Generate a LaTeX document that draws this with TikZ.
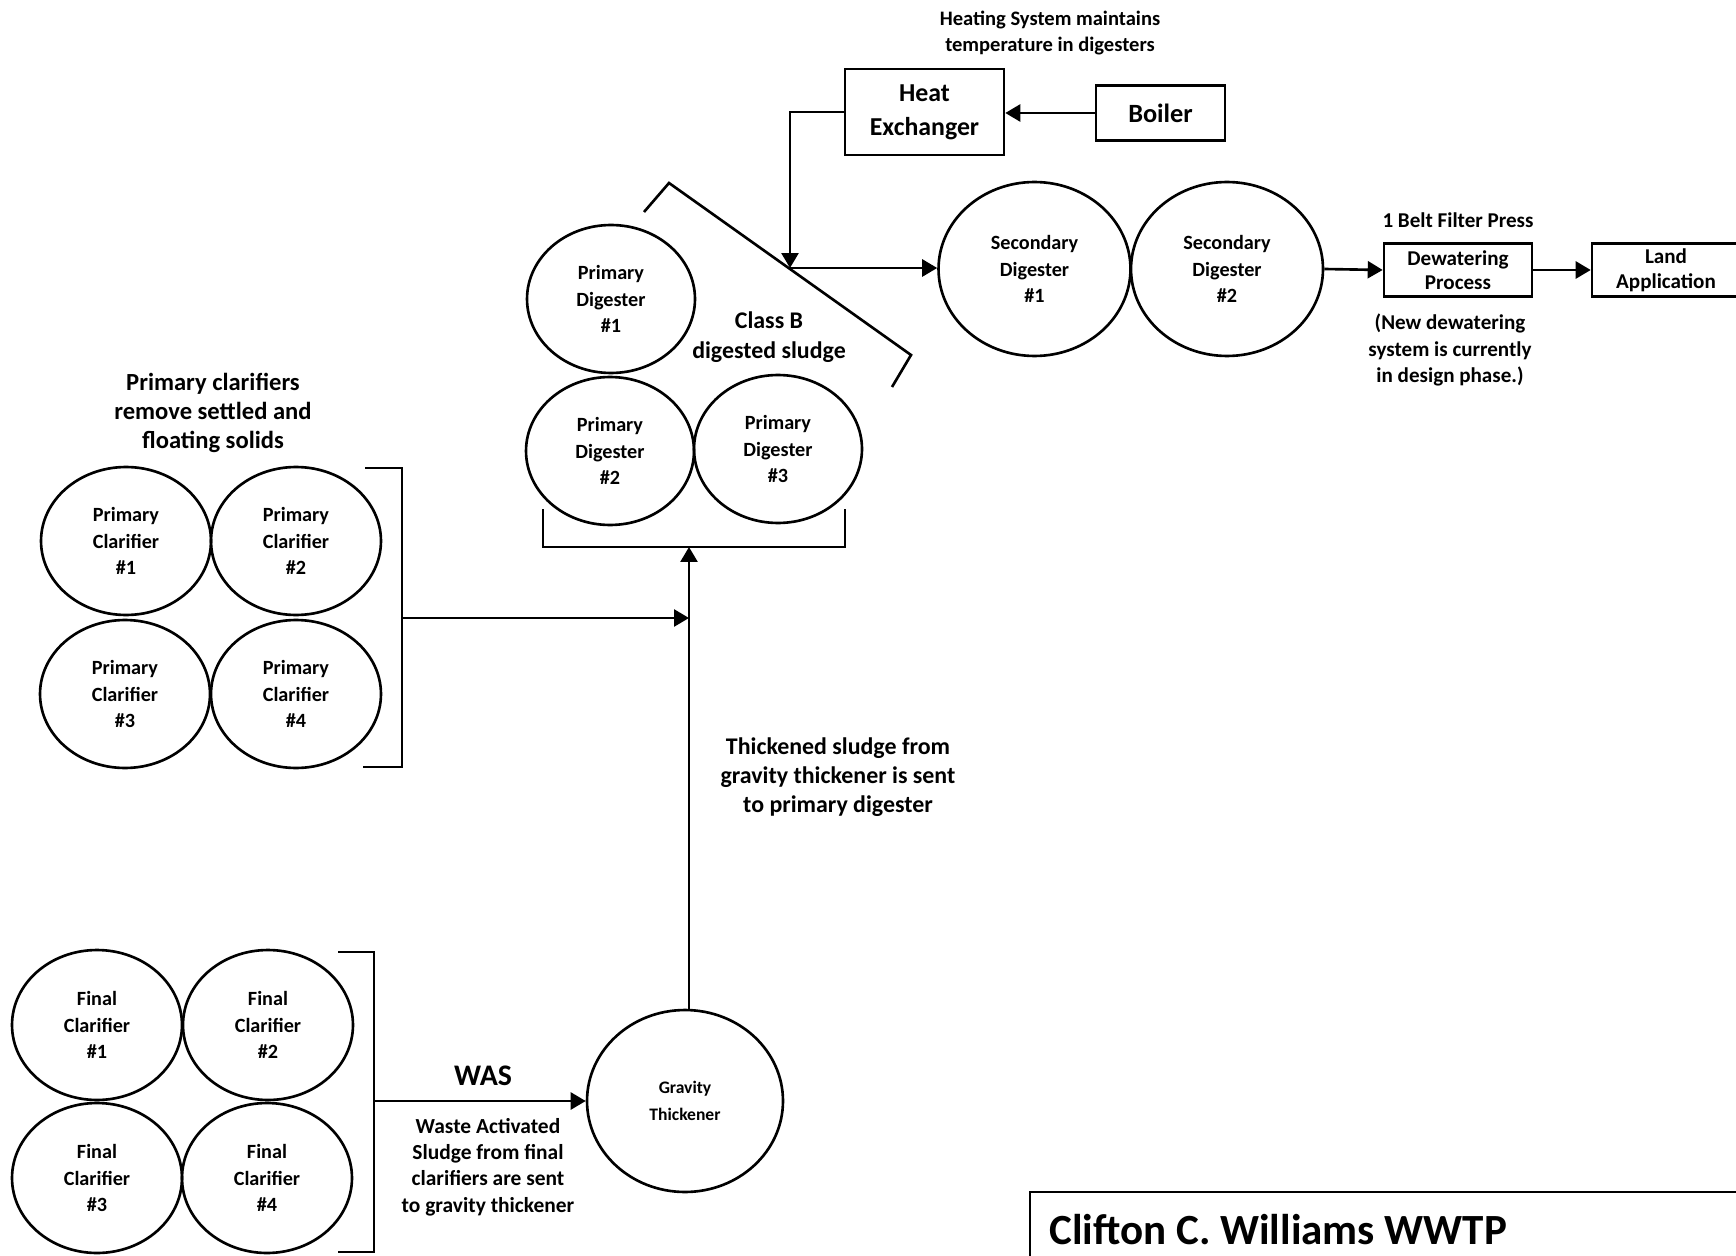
\documentclass[tikz,border=0pt]{standalone}
\usepackage{fontspec}
\setmainfont{Carlito}
\usepackage{tikz}
\usetikzlibrary{arrows.meta, positioning, shapes.geometric}
\newcommand{\fsz}[2]{\fontsize{#1}{#2}\selectfont\bfseries}
\tikzset{
  tank/.style      = {draw, ellipse, line width=1.5pt, inner sep=0pt,
                      align=center, font=\fsz{11.5}{15}},
  clarifier/.style = {tank, minimum width=3.4cm, minimum height=2.96cm},
  finalclar/.style = {tank, minimum width=3.4cm, minimum height=3.0cm},
  digester/.style  = {tank, minimum width=3.36cm, minimum height=2.96cm,
                      font=\fsz{11.5}{15}},
  secdig/.style    = {tank, minimum width=3.84cm, minimum height=3.48cm},
  unitbox/.style   = {draw, line width=1.5pt, inner sep=0pt, align=center},
  note/.style      = {align=center, inner sep=0pt, font=\fsz{12}{15}},
  bracket/.style   = {line width=1.5pt},
  flow/.style      = {-{Triangle[length=3mm, width=3.4mm]}, line width=1.5pt},
}

\begin{document}
\begin{tikzpicture}[x=0.02cm, y=-0.02cm]
    \useasboundingbox (0,0) rectangle (1736,1256);

    % --- heating system ---
    \node[note, font=\fsz{11.7}{14.7}] (heatnote) at (1050,33)
      {Heating System maintains\\temperature in digesters};
    \node[unitbox, minimum width=3.18cm, minimum height=1.72cm,
          font=\fsz{14.7}{19.5}] (hx) at (924.5,112) {Heat\\Exchanger};
    \node[unitbox, minimum width=2.58cm, minimum height=1.1cm,
          font=\fsz{15}{19}] (boiler) at (1160.5,113) {Boiler};
    \coordinate (jn) at (790,268);
    \draw[flow] (boiler.west) -- (hx.east |- boiler.west);
    \draw[flow] (hx.west) -| (jn);

    % --- primary digesters ---
    \node[digester] (pd1) at (611,299) {Primary\\Digester\\\#1};
    \node[digester] (pd2) at (610,451) {Primary\\Digester\\\#2};
    \node[digester] (pd3) at (778,449) {Primary\\Digester\\\#3};
    \draw[bracket] (644,212) -- (669,183) -- (911,355) -- (892,387);
    \node[note, font=\fsz{13.6}{17}] (classb) at (769,337)
      {Class B\\digested sludge};
    \draw[bracket] (543,509) -- (543,547) -- (845,547) -- (845,509);
    \coordinate (pdin) at (689,547);

    % --- secondary digesters and dewatering ---
    \node[secdig] (sd1) at (1034.5,269) {Secondary\\Digester\\\#1};
    \node[secdig] (sd2) at (1227,269) {Secondary\\Digester\\\#2};
    \draw[flow] (jn) -- (jn -| sd1.west);
    \node[unitbox, minimum width=2.96cm, minimum height=1.06cm,
          font=\fsz{12}{14}] (dw) at (1458,270) {Dewatering\\Process};
    \node[unitbox, minimum width=2.96cm, minimum height=1.06cm,
          font=\fsz{12}{14}] (land) at (1666,270) {Land\\Application};
    \node[note, font=\fsz{12}{15}] (bfp) at (1458,220) {1 Belt Filter Press};
    \node[note, font=\fsz{12}{15.3}] (dwnote) at (1450,350)
      {(New dewatering\\system is currently\\in design phase.)};
    \draw[flow] (sd2.east) -- (dw.west);
    \draw[flow] (dw.east) -- (land.west);

    % --- primary clarifiers ---
    \node[note, font=\fsz{14}{16.4}] (pcnote) at (213,413)
      {Primary clarifiers\\remove settled and\\floating solids};
    \node[clarifier] (pc1) at (126,541) {Primary\\Clarifier\\\#1};
    \node[clarifier] (pc2) at (296,541) {Primary\\Clarifier\\\#2};
    \node[clarifier] (pc3) at (125,694) {Primary\\Clarifier\\\#3};
    \node[clarifier] (pc4) at (296,694) {Primary\\Clarifier\\\#4};
    \draw[bracket] (365,468) -- (402,468) -- (402,767) -- (363,767);
    \coordinate (pcout) at (402,618);
    \draw[flow] (pcout) -- (pcout -| pdin);

    % --- gravity thickener ---
    \node[tank, minimum width=3.92cm, minimum height=3.64cm,
          font=\fsz{10}{15}] (gt) at (685,1101) {Gravity\\Thickener};
    \draw[flow] (pdin |- gt.north) -- (pdin);
    \node[note, font=\fsz{13.6}{16.7}] (gtnote) at (838,777)
      {Thickened sludge from\\gravity thickener is sent\\to primary digester};

    % --- final clarifiers ---
    \node[finalclar] (fc1) at (97,1025) {Final\\Clarifier\\\#1};
    \node[finalclar] (fc2) at (268,1025) {Final\\Clarifier\\\#2};
    \node[finalclar] (fc3) at (97,1178) {Final\\Clarifier\\\#3};
    \node[finalclar] (fc4) at (267,1178) {Final\\Clarifier\\\#4};
    \draw[bracket] (338,952) -- (374,952) -- (374,1252) -- (338,1252);
    \coordinate (fcout) at (374,1101);
    \draw[flow] (fcout) -- (gt.west);
    \node[font=\fsz{17}{19}] (was) at (483,1076) {WAS};
    \node[note, font=\fsz{12.2}{15}] (wasnote) at (488,1167)
      {Waste Activated\\Sludge from final\\clarifiers are sent\\to gravity thickener};

    % --- title block ---
    \draw[line width=1.5pt] (1030,1262) -- (1030,1192) -- (1742,1192);
    \node[anchor=west, inner sep=0pt, font=\fsz{24.5}{28}] (title) at (1049,1230)
      {Clifton C. Williams WWTP};
  \end{tikzpicture}
\end{document}
